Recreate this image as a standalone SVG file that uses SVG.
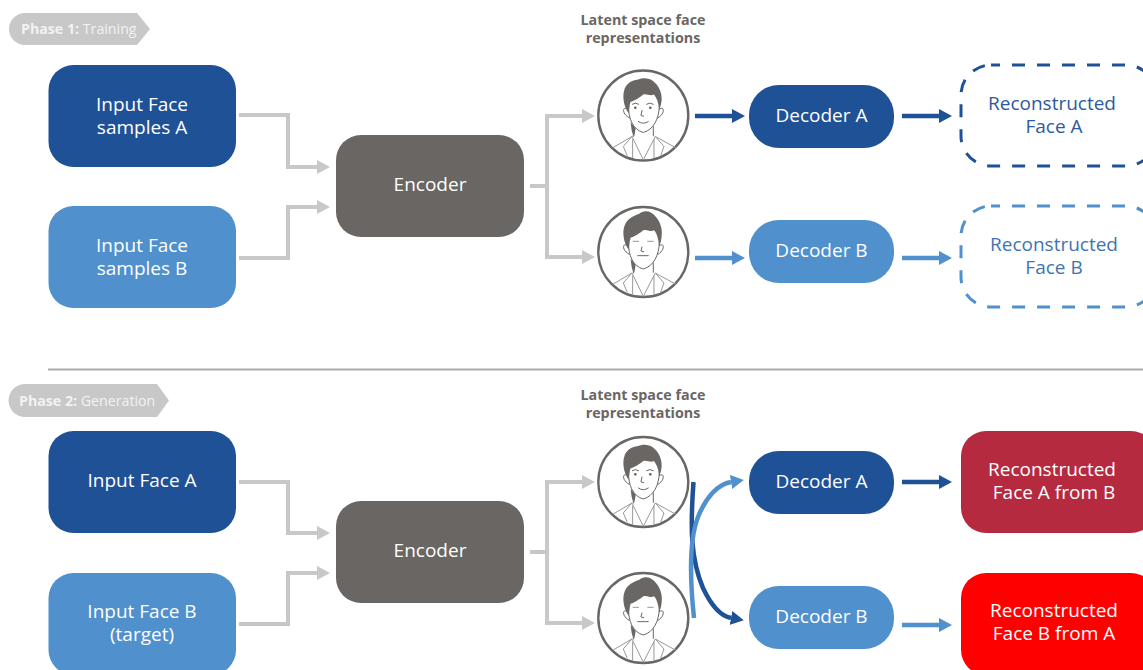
<svg xmlns="http://www.w3.org/2000/svg" width="1143" height="670" viewBox="0 0 1143 670">
<style>
text{font-family:"Open Sans","Noto Sans","Liberation Sans",sans-serif;text-anchor:middle}
.t{font-size:19px;fill:#fff}
.ta{font-size:19px;fill:#2d5a9e}
.tb{font-size:19px;fill:#3f74b0}
.lat{font-size:14.300px;font-weight:700;fill:#6a6663}
.tag{font-size:14.200px;fill:#f2f2f2;text-anchor:start}
.tag .b{font-weight:700}
.dk{fill:#1f5197}.lt{fill:#5090cd}.enc{fill:#6a6663}.tagbg{fill:#c8c8c8}
.g{fill:none;stroke:#c8c8c8;stroke-width:4}
.ba{fill:none;stroke:#1f5197;stroke-width:4.500}
.bb{fill:none;stroke:#5090cd;stroke-width:4.500}
.da{fill:none;stroke:#1f5197;stroke-width:3;stroke-dasharray:13 12}
.db{fill:none;stroke:#5090cd;stroke-width:3;stroke-dasharray:13 12}
.fo{fill:#fff;stroke:#6a6663;stroke-width:2.400}
.ln{fill:none;stroke:#6a6663;stroke-width:3;stroke-linecap:round}
.cl{fill:none;stroke:#9a9896;stroke-width:3}
.hair{fill:#6a6663}
</style>
<defs>
<marker id="mg" markerUnits="userSpaceOnUse" markerWidth="14" markerHeight="16" refX="0" refY="8" orient="auto"><path d="M0 1L13 8L0 15Z" fill="#c8c8c8"/></marker>
<marker id="ma" markerUnits="userSpaceOnUse" markerWidth="14" markerHeight="16" refX="0" refY="8" orient="auto"><path d="M0 1L13 8L0 15Z" fill="#1f5197"/></marker>
<marker id="mb" markerUnits="userSpaceOnUse" markerWidth="14" markerHeight="16" refX="0" refY="8" orient="auto"><path d="M0 1L13 8L0 15Z" fill="#5090cd"/></marker>
<g id="body">
<circle class="fo" cx="0" cy="0" r="45"/>
<g transform="scale(.3333) translate(-160,-165)">
<path class="cl" d="M68 262L126 228L160 298L196 228L258 262M126 228L100 258L112 286M196 228L222 258L212 286M128 236V292M192 236V292"/>
<path class="ln" d="M130 198V228M190 198V226"/>
<path class="hair" d="M122 185C124 200 124 215 133 227L137 204Z"/>
<path class="ln" d="M116 135C114 175 130 208 160 216C190 208 208 175 208 135"/>
<path class="ln" d="M113 146C97 134 94 160 118 172M208 146C224 134 226 160 204 172"/>
</g>
</g>
<g id="faceA">
<use href="#body"/>
<g transform="scale(.3333) translate(-160,-165)">
<path class="hair" d="M116 158C103 140 97 112 102 92C108 68 125 60 142 58C155 52 175 50 190 62C206 74 216 95 215 118C214 130 212 138 208 146C205 128 202 114 192 102C180 108 170 98 160 102C148 112 132 122 122 124C118 134 118 146 116 158Z"/>
<path class="ln" d="M127 131Q136 124 146 131M170 131Q180 124 190 131"/>
<circle cx="136" cy="142" r="4" fill="#6a6663"/><circle cx="181" cy="142" r="4" fill="#6a6663"/>
<path class="ln" d="M156 150L153 165L161 167M145 183Q160 194 175 183"/>
</g>
</g>
<g id="faceB">
<use href="#body"/>
<g transform="scale(.3333) translate(-160,-165)">
<path class="hair" d="M116 158C103 140 97 112 102 92C108 68 125 58 148 50C160 38 185 40 198 60C212 76 218 98 215 118C214 130 212 138 208 146C205 128 202 110 192 100C180 106 170 95 160 100C148 110 132 120 122 122C118 134 118 146 116 158Z"/>
<path class="cl" d="M128 133H147M172 133H191"/>
<path class="ln" d="M156 150L153 162L161 164M143 176H175"/>
</g>
</g>
</defs>

<line x1="48" y1="369.500" x2="1143" y2="369.500" stroke="#aaa" stroke-width="2"/>

<g id="tag1"><path class="tagbg" d="M25 13H137L150 29L137 45H25A16 16 0 0 1 25 13Z"/><text class="tag" x="21" y="34"><tspan class="b">Phase 1:</tspan> Training</text></g>
<g id="tag2"><path class="tagbg" d="M25 384H157L169 400.500L157 417H25A16.500 16.500 0 0 1 25 384Z"/><text class="tag" x="19" y="405.500"><tspan class="b">Phase 2:</tspan> Generation</text></g>

<g id="connectors">
<path class="g" marker-end="url(#mg)" d="M239 115H288V167H317"/>
<path class="g" marker-end="url(#mg)" d="M239 258H288V207H317"/>
<path class="g" d="M530 186H547"/>
<path class="g" marker-end="url(#mg)" d="M547 186V116H582"/>
<path class="g" marker-end="url(#mg)" d="M547 186V257H582"/>
<path class="ba" marker-end="url(#ma)" d="M695 116H732"/>
<path class="ba" marker-end="url(#ma)" d="M902 116H939"/>
<path class="bb" marker-end="url(#mb)" d="M695 258H732"/>
<path class="bb" marker-end="url(#mb)" d="M902 258H939"/>

<path class="g" marker-end="url(#mg)" d="M239 482H288V533H317"/>
<path class="g" marker-end="url(#mg)" d="M239 624H288V573H317"/>
<path class="g" d="M530 552H547"/>
<path class="g" marker-end="url(#mg)" d="M547 552V482H582"/>
<path class="g" marker-end="url(#mg)" d="M547 552V623H582"/>
<path class="ba" marker-end="url(#ma)" d="M693.500 482C690 530 691 560 703 588C711 605 720 616 731 618"/>
<path class="bb" marker-end="url(#mb)" d="M694 618C690 580 689 540 698 517C706 497 718 484 731 482"/>
<path class="ba" marker-end="url(#ma)" d="M902 482H939"/>
<path class="bb" marker-end="url(#mb)" d="M902 625H939"/>
</g>

<g id="n1"><rect class="dk" x="48.500" y="65" width="187.500" height="102" rx="25"/><text class="t" x="142" y="111">Input Face</text><text class="t" x="142" y="134">samples A</text></g>
<g id="n2"><rect class="lt" x="48.500" y="206" width="187.500" height="102" rx="25"/><text class="t" x="142" y="252">Input Face</text><text class="t" x="142" y="275">samples B</text></g>
<g id="n3"><rect class="enc" x="336" y="135" width="188" height="102" rx="25"/><text class="t" x="430" y="191">Encoder</text></g>
<g id="n4"><text class="lat" x="643" y="25">Latent space face</text><text class="lat" x="643" y="43">representations</text></g>
<g id="n5"><use href="#faceA" x="643.300" y="115.500"/></g>
<g id="n6"><use href="#faceB" x="643.300" y="252"/></g>
<g id="n7"><rect class="dk" x="749" y="85" width="145" height="63" rx="30"/><text class="t" x="821.500" y="122">Decoder A</text></g>
<g id="n8"><rect class="lt" x="749" y="220" width="145" height="63" rx="30"/><text class="t" x="821.500" y="257">Decoder B</text></g>
<g id="n9"><rect class="da" x="961" y="65" width="195" height="101" rx="30" stroke-dashoffset="4"/><text class="ta" x="1052" y="110">Reconstructed</text><text class="ta" x="1054" y="133">Face A</text></g>
<g id="n10"><rect class="db" x="961" y="206" width="195" height="101" rx="30" stroke-dashoffset="4"/><text class="tb" x="1054" y="251">Reconstructed</text><text class="tb" x="1054" y="274">Face B</text></g>

<g id="n11"><rect class="dk" x="48.500" y="431" width="187.500" height="102" rx="25"/><text class="t" x="142" y="487">Input Face A</text></g>
<g id="n12"><rect class="lt" x="48.500" y="573" width="187.500" height="102" rx="25"/><text class="t" x="142" y="618">Input Face B</text><text class="t" x="142" y="641">(target)</text></g>
<g id="n13"><rect class="enc" x="336" y="501" width="188" height="102" rx="25"/><text class="t" x="430" y="557">Encoder</text></g>
<g id="n14"><text class="lat" x="643" y="400">Latent space face</text><text class="lat" x="643" y="418">representations</text></g>
<g id="n15"><use href="#faceA" x="643.300" y="482"/></g>
<g id="n16"><use href="#faceB" x="643.300" y="618"/></g>
<g id="n17"><rect class="dk" x="749" y="451" width="145" height="63" rx="30"/><text class="t" x="821.500" y="488">Decoder A</text></g>
<g id="n18"><rect class="lt" x="749" y="586" width="145" height="63" rx="30"/><text class="t" x="821.500" y="623">Decoder B</text></g>
<g id="n19"><rect x="961" y="431" width="195" height="102" rx="25" fill="#b62a3f"/><text class="t" x="1052" y="476">Reconstructed</text><text class="t" x="1054" y="499">Face A from B</text></g>
<g id="n20"><rect x="961" y="573" width="195" height="102" rx="25" fill="#ff0000"/><text class="t" x="1054" y="617">Reconstructed</text><text class="t" x="1054" y="640">Face B from A</text></g>
</svg>
